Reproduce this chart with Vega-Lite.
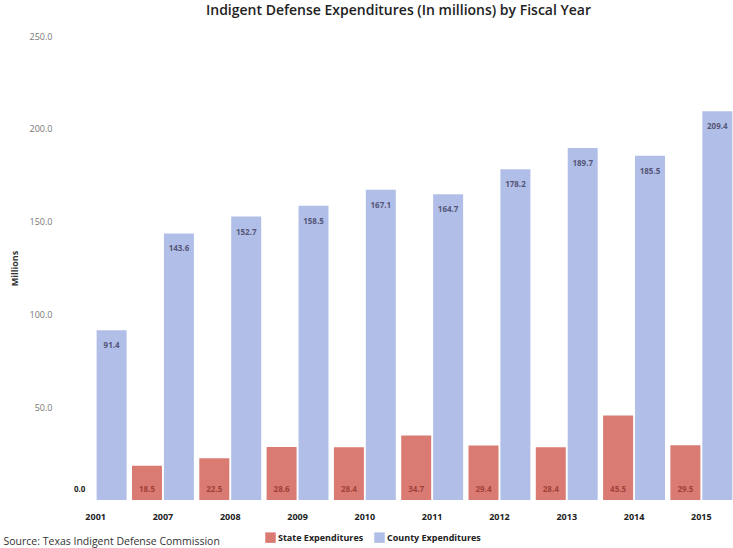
{
  "$schema": "https://vega.github.io/schema/vega-lite/v6.json",
  "autosize": {"type": "none"},
  "width": 673,
  "height": 464,
  "padding": {"left": 62, "top": 36, "right": -2, "bottom": 48},
  "background": "white",
  "title": {
    "text": "Indigent Defense Expenditures (In millions) by Fiscal Year",
    "font": "Open Sans",
    "fontSize": 14,
    "fontWeight": 600,
    "color": "#222222",
    "anchor": "middle",
    "frame": "group",
    "offset": 14
  },
  "config": {
    "view": {"stroke": null},
    "font": "Open Sans"
  },
  "data": {
    "values": [
      {"year": "2001", "series": "State Expenditures", "value": 0.0},
      {"year": "2001", "series": "County Expenditures", "value": 91.4},
      {"year": "2007", "series": "State Expenditures", "value": 18.5},
      {"year": "2007", "series": "County Expenditures", "value": 143.6},
      {"year": "2008", "series": "State Expenditures", "value": 22.5},
      {"year": "2008", "series": "County Expenditures", "value": 152.7},
      {"year": "2009", "series": "State Expenditures", "value": 28.6},
      {"year": "2009", "series": "County Expenditures", "value": 158.5},
      {"year": "2010", "series": "State Expenditures", "value": 28.4},
      {"year": "2010", "series": "County Expenditures", "value": 167.1},
      {"year": "2011", "series": "State Expenditures", "value": 34.7},
      {"year": "2011", "series": "County Expenditures", "value": 164.7},
      {"year": "2012", "series": "State Expenditures", "value": 29.4},
      {"year": "2012", "series": "County Expenditures", "value": 178.2},
      {"year": "2013", "series": "State Expenditures", "value": 28.4},
      {"year": "2013", "series": "County Expenditures", "value": 189.7},
      {"year": "2014", "series": "State Expenditures", "value": 45.5},
      {"year": "2014", "series": "County Expenditures", "value": 185.5},
      {"year": "2015", "series": "State Expenditures", "value": 29.5},
      {"year": "2015", "series": "County Expenditures", "value": 209.4}
    ]
  },
  "encoding": {
    "x": {
      "field": "year",
      "type": "nominal",
      "sort": null,
      "scale": {"paddingInner": 0.08, "paddingOuter": 0.04},
      "axis": {
        "title": "Source: Texas Indigent Defense Commission",
        "titleFont": "Open Sans",
        "titleFontSize": 10.5,
        "titleFontWeight": "normal",
        "titleColor": "#333333",
        "titleAnchor": "start",
        "titleAlign": "left",
        "titleBaseline": "bottom",
        "titleX": -59,
        "titleY": 46,
        "labelAngle": 0,
        "labelFontSize": 9,
        "labelFontWeight": "bold",
        "labelColor": "#222222",
        "labelPadding": 12,
        "domain": false,
        "ticks": false
      }
    },
    "xOffset": {
      "field": "series",
      "type": "nominal",
      "sort": ["State Expenditures", "County Expenditures"],
      "scale": {"paddingInner": 0.06}
    },
    "y": {
      "field": "value",
      "type": "quantitative",
      "scale": {"domain": [0, 250]},
      "axis": {
        "title": "Millions",
        "titleFontSize": 9,
        "titleFontWeight": "bold",
        "titleColor": "#333333",
        "titlePadding": 10,
        "values": [0, 50, 100, 150, 200, 250],
        "labelExpr": "datum.value == 0 ? '' : format(datum.value, '.1f')",
        "labelFontSize": 9,
        "labelColor": "#777777",
        "labelPadding": 10,
        "grid": false,
        "domain": false,
        "ticks": false
      }
    }
  },
  "layer": [
    {
      "mark": {"type": "bar", "opacity": 0.9},
      "encoding": {
        "color": {
          "field": "series",
          "type": "nominal",
          "sort": ["State Expenditures", "County Expenditures"],
          "scale": {
            "domain": ["State Expenditures", "County Expenditures"],
            "range": ["#d66d64", "#a9b8e6"]
          },
          "legend": {
            "title": null,
            "orient": "none",
            "direction": "horizontal",
            "legendX": 203,
            "legendY": 496,
            "symbolType": "square",
            "symbolSize": 110,
            "symbolStrokeWidth": 0,
            "labelFontSize": 9,
            "labelFontWeight": "bold",
            "labelColor": "#222222",
            "columnPadding": 10,
            "labelOffset": 2
          }
        }
      }
    },
    {
      "transform": [{"filter": "datum.series == 'County Expenditures'"}],
      "mark": {"type": "text", "baseline": "top", "dy": 12, "fontSize": 8, "fontWeight": "bold", "color": "#555577"},
      "encoding": {
        "text": {"field": "value", "type": "quantitative", "format": ".1f"}
      }
    },
    {
      "transform": [{"filter": "datum.series == 'State Expenditures'"}],
      "mark": {"type": "text", "baseline": "bottom", "dy": -6, "fontSize": 8, "fontWeight": "bold", "color": "#a0413a"},
      "encoding": {
        "y": {"datum": 0},
        "text": {"field": "value", "type": "quantitative", "format": ".1f"},
        "color": {
          "condition": {"test": "datum.value == 0", "value": "#222222"},
          "value": "#a0413a"
        }
      }
    }
  ]
}
